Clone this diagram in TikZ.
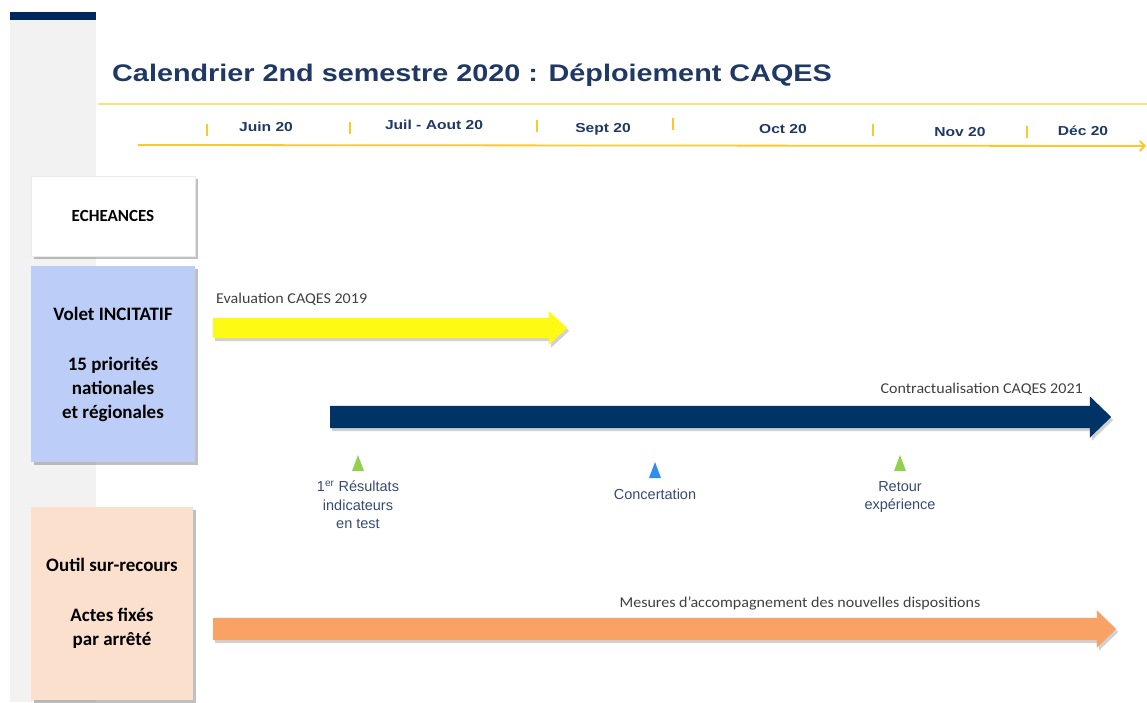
\documentclass[tikz,border=0pt]{standalone}
\usepackage{fontspec}
\setmainfont{Liberation Sans}
\newfontfamily\widesans[FakeStretch=1.2]{Liberation Sans}
\newfontfamily\calib{Carlito}
\newfontfamily\calibwide[FakeStretch=1.07]{Carlito}
\usetikzlibrary{positioning,shadows,shapes.arrows,arrows.meta}

\definecolor{navybar}{RGB}{0,40,95}
\definecolor{titleblue}{RGB}{31,56,100}
\definecolor{stripgray}{RGB}{242,242,242}
\definecolor{rulecol}{RGB}{255,226,125}
\definecolor{tlyellow}{RGB}{255,200,40}
\definecolor{incitblue}{RGB}{188,206,248}
\definecolor{outilpeach}{RGB}{252,224,206}
\definecolor{evalyellow}{RGB}{255,250,20}
\definecolor{contrnavy}{RGB}{0,51,102}
\definecolor{mesorange}{RGB}{250,162,102}
\definecolor{msgreen}{RGB}{146,208,80}
\definecolor{msblue}{RGB}{50,140,240}
\definecolor{mstext}{RGB}{55,75,115}

\tikzset{
  titletext/.style={font=\widesans\bfseries\fontsize{24}{28}\selectfont, text=titleblue, inner sep=0pt},
  month/.style={font=\widesans\bfseries\fontsize{13}{15}\selectfont, text=titleblue, inner sep=0pt},
  tick/.style={draw=tlyellow, line width=1.5pt},
  timeline/.style={draw=tlyellow, line width=1.8pt, -{Straight Barb[length=5pt,width=10pt]}},
  leftbox/.style={minimum width=164pt, align=center, inner sep=0pt,
    font=\calib\bfseries\fontsize{19}{24}\selectfont,
    drop shadow={shadow xshift=3pt, shadow yshift=-3pt, opacity=0.45, fill=black!55}},
  barrow/.style={single arrow, anchor=tail, inner xsep=0pt, single arrow head indent=0pt,
    drop shadow={shadow xshift=2pt, shadow yshift=-3pt, opacity=0.3, fill=black!60}},
  barlabel/.style={font=\calibwide\fontsize{15}{18}\selectfont, text=black!75, inner sep=0pt},
  mslabel/.style={font=\fontsize{14.5}{18.5}\selectfont, text=mstext, align=center, inner sep=0pt},
}

\begin{document}
\begin{tikzpicture}[x=1pt,y=-1pt]
\useasboundingbox (0,0) rectangle (1147,702);
% left strip
\fill[stripgray] (10,20) rectangle (96,702);
\fill[navybar] (10,12) rectangle (96,20);
% title
\node[titletext, anchor=base west] (title) at (112,81) {Calendrier 2nd semestre 2020 : Déploiement CAQES};
\draw[rulecol, line width=1.5pt] (98,104) -- (1147,104);
% months
\coordinate (tstart) at (138,145);
\coordinate (tend) at (1146,146);
\draw[timeline] (tstart) -- (tend);
\foreach \x/\y in {207/124,350/122,537/120,673/118,873/124,1027/126}
  \draw[tick] (\x,\y) -- ++(0,12);
\foreach \x/\y/\m in {266/127/Juin 20,434/125/Juil - Aout 20,603/129/Sept 20,783/129/Oct 20,960/132/Nov 20,1083/131/Déc 20}
  \node[month] (m\x) at (\x,\y) {\m};
% left boxes
\node[leftbox, fill=white, draw=black!8, font=\calib\bfseries\fontsize{17}{22}\selectfont, minimum height=80pt] (echeances) at (113,216) {ECHEANCES};
\node[leftbox, fill=incitblue, minimum height=196pt] (incitatif) at (113,364) {Volet INCITATIF\\[26pt]15 priorités\\nationales\\et régionales};
\node[leftbox, fill=outilpeach, minimum width=162pt, minimum height=193pt] (outil) at (112,603.5) {Outil sur-recours\\[26pt]Actes fixés\\par arrêté};
% bars
\node[barrow, fill=evalyellow, minimum height=354pt, inner ysep=10pt, single arrow head extend=6.5pt, single arrow tip angle=85] (eval) at (213,328) {};
\node[barlabel, anchor=base west] (evallab) at (216,303) {Evaluation CAQES 2019};
\node[barrow, fill=contrnavy, minimum height=781pt, inner ysep=11pt, single arrow head extend=9.5pt, single arrow tip angle=88] (contr) at (330,417) {};
\node[barlabel, anchor=base east] (contrlab) at (1083,393) {Contractualisation CAQES 2021};
\node[barrow, fill=mesorange, minimum height=903pt, inner ysep=11pt, single arrow head extend=7.5pt, single arrow tip angle=88] (mes) at (213,629) {};
\node[barlabel, anchor=base] (meslab) at (800,607) {Mesures d’accompagnement des nouvelles dispositions};
% milestones
\coordinate (ms1) at (358,471);
\coordinate (ms2) at (655,478);
\coordinate (ms3) at (900,471);
\fill[msgreen] (ms1) ++(-6,0) -- ++(12,0) -- ++(-6,-16) -- cycle;
\fill[msblue] (ms2) ++(-6,0) -- ++(12,0) -- ++(-6,-16) -- cycle;
\fill[msgreen] (ms3) ++(-6,0) -- ++(12,0) -- ++(-6,-16) -- cycle;
\node[mslabel, below=10pt of ms1] (ms1lab) {1\textsuperscript{er} Résultats\\indicateurs\\en test};
\node[mslabel, below=11pt of ms2] (ms2lab) {Concertation};
\node[mslabel, below=10pt of ms3] (ms3lab) {Retour\\expérience};
\end{tikzpicture}
\end{document}
